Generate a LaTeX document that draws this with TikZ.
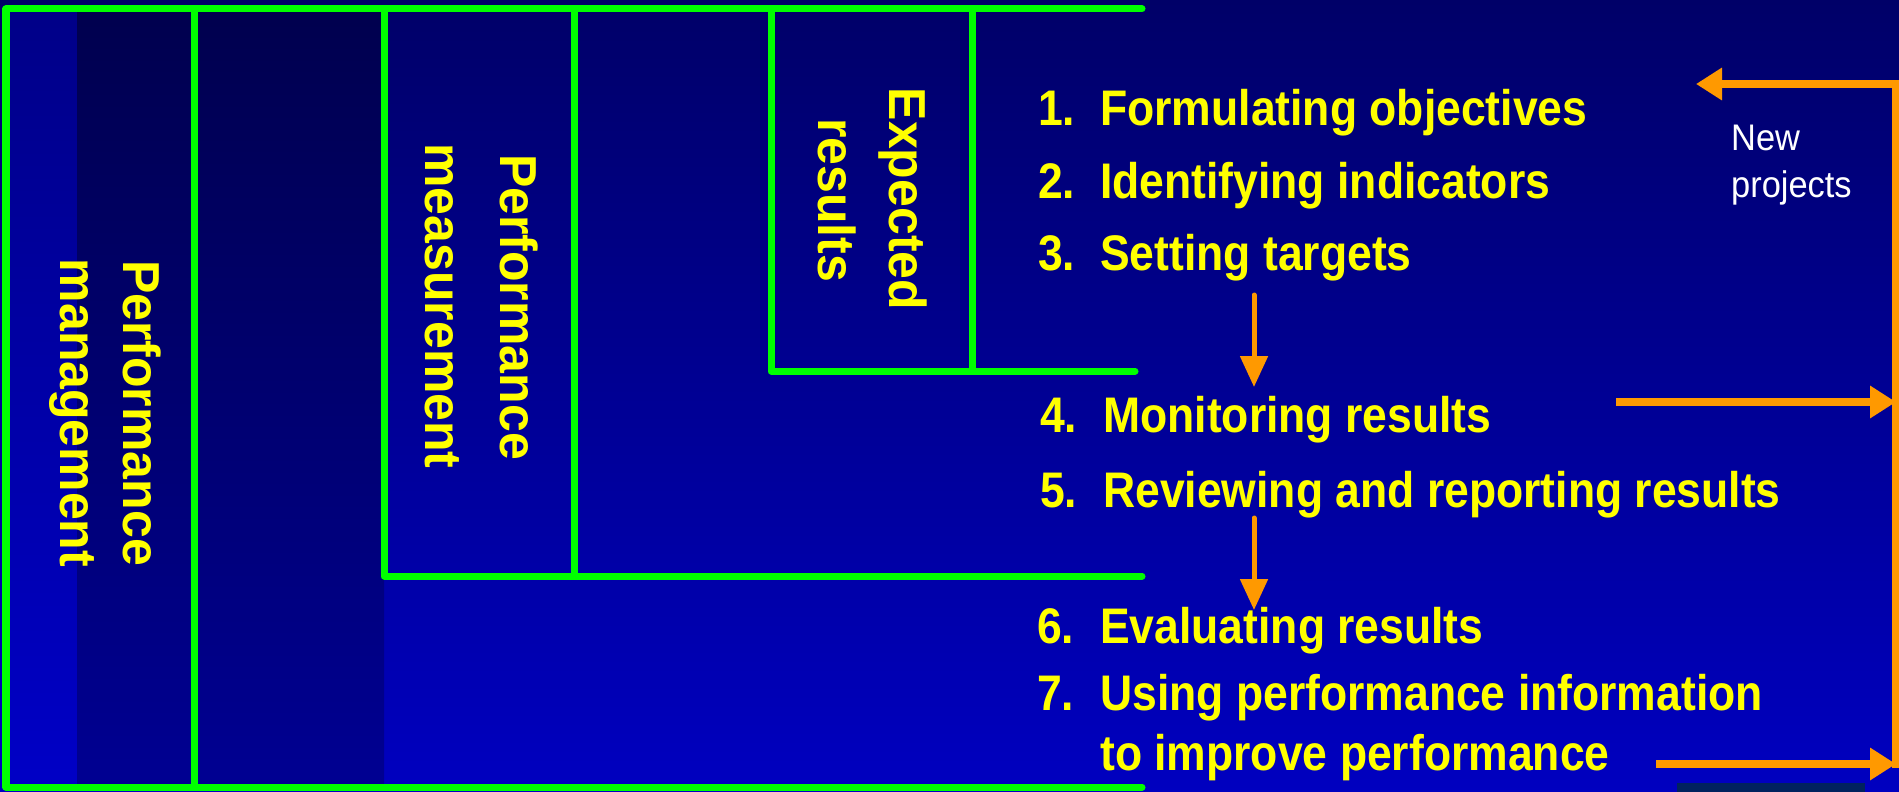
\documentclass[tikz,border=0pt]{standalone}
\usepackage{fontspec}
\setmainfont{Liberation Sans}
\usetikzlibrary{arrows.meta}

\definecolor{bgtop}{HTML}{000068}
\definecolor{bgbot}{HTML}{0000C0}
\definecolor{striptop}{HTML}{000088}
\definecolor{stripbot}{HTML}{0000C6}
\definecolor{darktop}{HTML}{00004E}
\definecolor{darkbot}{HTML}{000092}
\definecolor{greenline}{HTML}{00FF00}
\definecolor{orangeline}{HTML}{FF9900}
\definecolor{labelyellow}{HTML}{FFFF00}
\definecolor{footbar}{HTML}{00225E}

\begin{document}
\begin{tikzpicture}[x=1bp,y=-1bp,
  frame/.style={draw=greenline, line width=7bp, line cap=round, line join=round},
  vlabel/.style={text=labelyellow, font=\fontsize{50bp}{60bp}\selectfont\bfseries,
                 rotate=-90, yscale=1.04, anchor=base, inner sep=0pt},
  stepitem/.style={text=labelyellow, font=\fontsize{50bp}{60bp}\selectfont\bfseries,
                   xscale=0.89, anchor=base west, inner sep=0pt},
  note/.style={text=white, font=\fontsize{37bp}{47bp}\selectfont,
               xscale=0.93, anchor=base west, inner sep=0pt},
  flow/.style={draw=orangeline, line width=5bp, line cap=round,
               -{Triangle[length=31bp,width=27bp]}},
  loop/.style={draw=orangeline, line width=8bp,
               -{Triangle[length=26bp,width=31bp]}},
]
\useasboundingbox (0,0) rectangle (1899,792);

% background panels
\shade[top color=bgtop, bottom color=bgbot] (0,0) rectangle (1899,792);
\shade[top color=striptop, bottom color=stripbot] (6,9) rectangle (77,787);
\shade[top color=darktop, bottom color=darkbot] (77,9) rectangle (384,787);
\fill[footbar] (1677,783) rectangle (1865,792);

% nested frames
\draw[frame] (1142,9) -- (6,9) -- (6,787) -- (1142,787);
\draw[frame] (194,9) -- (194,787);
\draw[frame] (384,9) -- (384,576) -- (1142,576);
\draw[frame] (574,9) -- (574,576);
\draw[frame] (771,9) -- (771,371) -- (1135,371);
\draw[frame] (972,9) -- (972,371);

% vertical labels
\node[vlabel] (pm1) at (123,413) {Performance};
\node[vlabel] (pm2) at (60,413) {management};
\node[vlabel] (ms1) at (500,307) {Performance};
\node[vlabel] (ms2) at (425,306) {measurement};
\node[vlabel] (er1) at (889,199) {Expected};
\node[vlabel] (er2) at (818,200) {results};

% steps
\node[stepitem] (n1) at (1038,125) {1.};
\node[stepitem] (s1) at (1100,125) {Formulating objectives};
\node[stepitem] (n2) at (1038,198) {2.};
\node[stepitem] (s2) at (1100,198) {Identifying indicators};
\node[stepitem] (n3) at (1038,270) {3.};
\node[stepitem] (s3) at (1100,270) {Setting targets};
\node[stepitem] (n4) at (1040,432) {4.};
\node[stepitem] (s4) at (1103,432) {Monitoring results};
\node[stepitem] (n5) at (1040,507) {5.};
\node[stepitem] (s5) at (1103,507) {Reviewing and reporting results};
\node[stepitem] (n6) at (1037,643) {6.};
\node[stepitem] (s6) at (1100,643) {Evaluating results};
\node[stepitem] (n7) at (1037,710) {7.};
\node[stepitem] (s7) at (1100,710) {Using performance information};
\node[stepitem] (s7b) at (1100,770) {to improve performance};

% loop label
\node[note] (np1) at (1731,150) {New};
\node[note] (np2) at (1731,197) {projects};

% arrow end points
\coordinate (d1s) at (1254,295);
\coordinate (d1e) at (1254,387);
\coordinate (d2s) at (1254,518);
\coordinate (d2e) at (1254,610);
\coordinate (r1s) at (1616,402);
\coordinate (r1e) at (1896,402);
\coordinate (r2s) at (1656,764);
\coordinate (r2e) at (1896,764);
\coordinate (loopBot) at (1896,768);
\coordinate (loopTop) at (1896,84);
\coordinate (newTip) at (1696,84);

% flow arrows
\draw[flow] (d1s) -- (d1e);
\draw[flow] (d2s) -- (d2e);
\draw[loop] (r1s) -- (r1e);
\draw[loop] (r2s) -- (r2e);
\draw[loop] (loopBot) -- (loopTop) -- (newTip);
\end{tikzpicture}
\end{document}
